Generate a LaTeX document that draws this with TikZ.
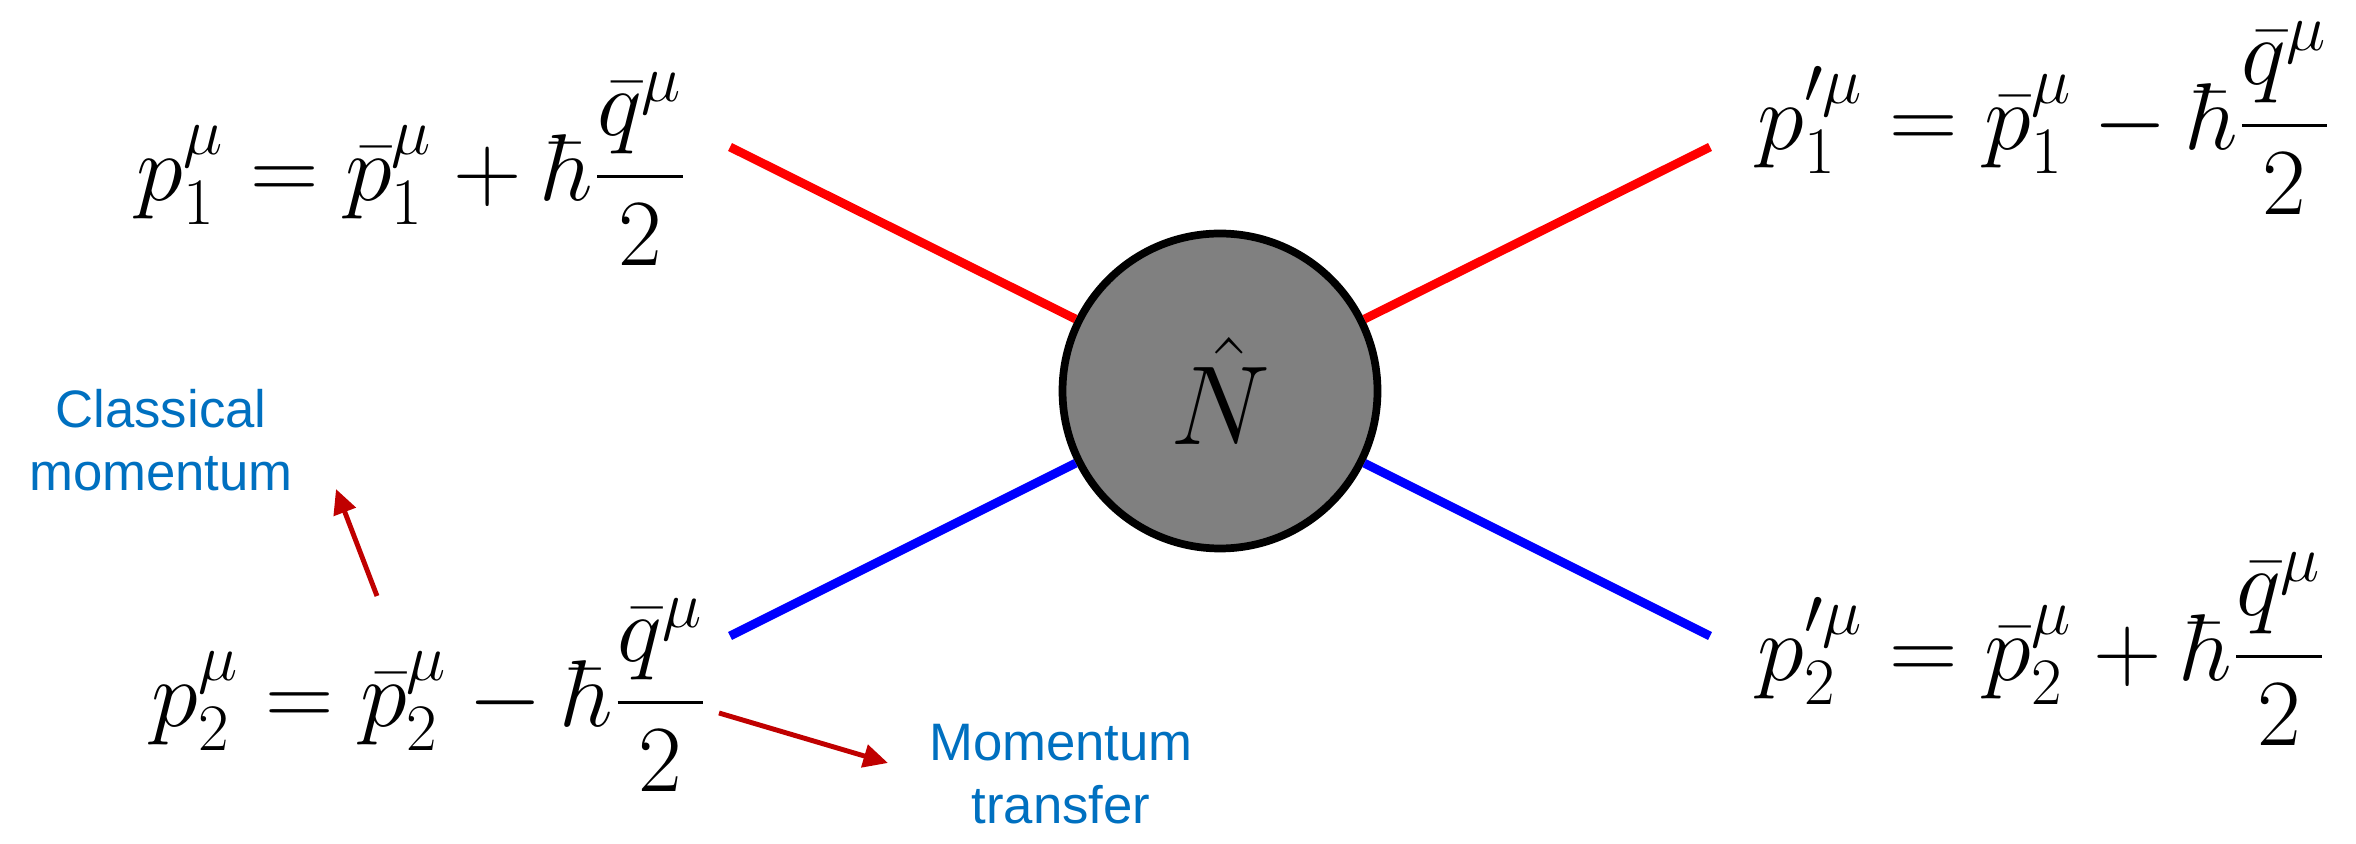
\RequirePackage{fix-cm}
\documentclass[tikz,border=0pt]{standalone}
\usepackage{amsmath}
\usepackage{fontspec}
\usepackage{tikz}
\usetikzlibrary{
    arrows.meta,
    positioning,
    calc
}
\newfontfamily\notefont{Liberation Sans}
\tikzset{
  eqn/.style    = {inner sep=0pt, font=\fontsize{27}{32}\selectfont},
  note/.style   = {align=center, inner sep=0pt, text=noteBlue,
                   font=\notefont\fontsize{15}{18}\selectfont},
  blob/.style   = {circle, draw=black, line width=2.2pt, fill=blobGray,
                   minimum size=3.15cm, inner sep=0pt,
                   font=\fontsize{32}{38}\selectfont},
  leg/.style    = {line width=2.5pt},
  pointer/.style= {-{Triangle[length=7pt,width=6.5pt]}, line width=1.4pt, arrowRed}
}
\definecolor{noteBlue}{RGB}{0,112,192}
\definecolor{arrowRed}{RGB}{192,0,0}
\definecolor{blobGray}{RGB}{128,128,128}

\begin{document}
\begin{tikzpicture}
\useasboundingbox (0,0) rectangle (23.56,8.43);
\node[blob] (N) at (12.20,4.52) {$\hat{N}$};
\coordinate (in1) at (7.30,6.96);
\coordinate (in2) at (7.30,2.07);
\coordinate (out1) at (17.10,6.96);
\coordinate (out2) at (17.10,2.07);
\draw[leg,red] (in1) -- (N);
\draw[leg,red] (N) -- (out1);
\draw[leg,blue] (in2) -- (N);
\draw[leg,blue] (N) -- (out2);
\node[eqn,anchor=west] (p1) at (1.36,6.74)
  {$\displaystyle p_1^{\mu}=\bar{p}_1^{\mu}+\hbar\frac{\bar{q}^{\mu}}{2}$};
\node[eqn,anchor=west] (p2) at (1.51,1.48)
  {$\displaystyle p_2^{\mu}=\bar{p}_2^{\mu}-\hbar\frac{\bar{q}^{\mu}}{2}$};
\node[eqn,anchor=west] (q1) at (17.57,7.25)
  {$\displaystyle p'^{\mu}_1=\bar{p}_1^{\mu}-\hbar\frac{\bar{q}^{\mu}}{2}$};
\node[eqn,anchor=west] (q2) at (17.57,1.94)
  {$\displaystyle p'^{\mu}_2=\bar{p}_2^{\mu}+\hbar\frac{\bar{q}^{\mu}}{2}$};
\node[note] (classical) at (1.61,4.03) {Classical\\momentum};
\node[note] (transfer) at (10.61,0.69) {Momentum\\transfer};
\coordinate (c0) at (3.77,2.47);
\coordinate (c1) at (3.36,3.54);
\coordinate (t0) at (7.19,1.30);
\coordinate (t1) at (8.88,0.80);
\draw[pointer] (c0) -- (c1);
\draw[pointer] (t0) -- (t1);
\end{tikzpicture}
\end{document}
